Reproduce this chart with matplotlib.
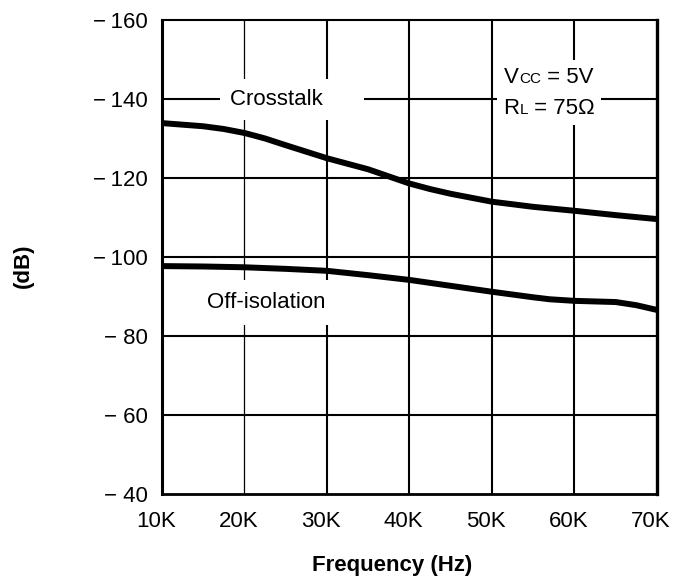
import matplotlib
matplotlib.use("Agg")
import matplotlib.pyplot as plt
import matplotlib.transforms as mtransforms
from matplotlib.offsetbox import TextArea, HPacker, VPacker, AnnotationBbox

plt.rcParams['font.family'] = ['Liberation Sans', 'DejaVu Sans']

# frequency in kHz, levels in dB
freq_cross = [10, 15, 17.5, 20, 22.5, 25, 30, 35, 37.5, 40, 42.5, 45, 50, 55, 60, 65, 70]
crosstalk = [-133.9, -133.1, -132.4, -131.4, -130.0, -128.3, -125.0, -122.2, -120.4, -118.6,
             -117.2, -116.0, -114.0, -112.7, -111.7, -110.6, -109.6]

freq_off = [10, 15, 20, 25, 30, 35, 40, 45, 50, 52.5, 55, 57, 60, 65, 67.5, 70]
off_isolation = [-97.7, -97.6, -97.4, -97.0, -96.5, -95.4, -94.2, -92.7,
                 -91.2, -90.5, -89.8, -89.3, -88.9, -88.6, -87.8, -86.6]

x_ticks = [10, 20, 30, 40, 50, 60, 70]
x_labels = ["10K", "20K", "30K", "40K", "50K", "60K", "70K"]
y_ticks = [-160, -140, -120, -100, -80, -60, -40]
y_labels = ["\u2212" + (" " if abs(v) < 100 else "\u2009") + str(abs(v)) for v in y_ticks]

fs = 16

fig = plt.figure(figsize=(6.75, 5.78), dpi=100)
ax = fig.add_axes([0.24, 0.1453, 0.7333, 0.8201])

ax.set_xlim(10, 70)
ax.set_ylim(-40, -160)

# grid, drawn by hand so the 20K line can be thinner
for i, xv in enumerate(x_ticks[1:-1]):
    ax.axvline(xv, color="black", lw=0.9 if i == 0 else 1.5, zorder=1)
for yv in y_ticks[1:-1]:
    ax.axhline(yv, color="black", lw=1.5, zorder=1)

ax.plot(freq_cross, crosstalk, color="black", lw=4.3, zorder=5,
        solid_capstyle="butt", solid_joinstyle="round")
ax.plot(freq_off, off_isolation, color="black", lw=4.3, zorder=5,
        solid_capstyle="butt", solid_joinstyle="round")

ax.set_xticks(x_ticks)
ax.set_xticklabels(x_labels)
ax.set_yticks(y_ticks)
ax.set_yticklabels(y_labels)
ax.tick_params(axis="both", length=0, labelsize=fs)
ax.tick_params(axis="x", pad=12)
ax.tick_params(axis="y", pad=10)

# x labels sit a little left of their grid lines in the original
shift = mtransforms.ScaledTranslation(-6 / 100, 0, fig.dpi_scale_trans)
for lab in ax.get_xticklabels():
    lab.set_transform(lab.get_transform() + shift)

ax.spines["left"].set_linewidth(2.2)
ax.spines["right"].set_linewidth(2.4)
ax.spines["bottom"].set_linewidth(2.0)
ax.spines["top"].set_linewidth(1.5)

ax.text(18.3, -138.4, "Crosstalk     ", fontsize=fs, va="baseline", ha="left",
        bbox=dict(boxstyle="square,pad=0.45", facecolor="white", edgecolor="none"),
        zorder=3)
ax.text(15.5, -87.1, "Off-isolation", fontsize=fs, va="baseline", ha="left",
        bbox=dict(boxstyle="square,pad=0.55", facecolor="white", edgecolor="none"),
        zorder=3)

big = dict(fontsize=fs, color="black")
small = dict(fontsize=11, color="black")
line1 = HPacker(children=[TextArea("V", textprops=big), TextArea("CC", textprops=small),
                          TextArea(" = 5V", textprops=big)], align="baseline", pad=0, sep=0)
line2 = HPacker(children=[TextArea("R", textprops=big), TextArea("L", textprops=small),
                          TextArea(" = 75\u03a9", textprops=big)], align="baseline", pad=0, sep=0)
block = VPacker(children=[line1, line2], align="center", pad=0, sep=7)
ab = AnnotationBbox(block, (56.9, -141.6), xycoords="data", frameon=True,
                    fontsize=fs, pad=0.5, zorder=3,
                    bboxprops=dict(facecolor="white", edgecolor="none", boxstyle="square"))
ax.add_artist(ab)

fig.text(392 / 675, 1 - 566 / 578, "Frequency (Hz)", fontsize=fs, fontweight="bold",
         ha="center", va="center")
fig.text(23 / 675, 1 - 266 / 578, "(dB)", fontsize=fs, fontweight="bold",
         rotation=90, ha="center", va="center")

fig.savefig("out.png", dpi=100)
